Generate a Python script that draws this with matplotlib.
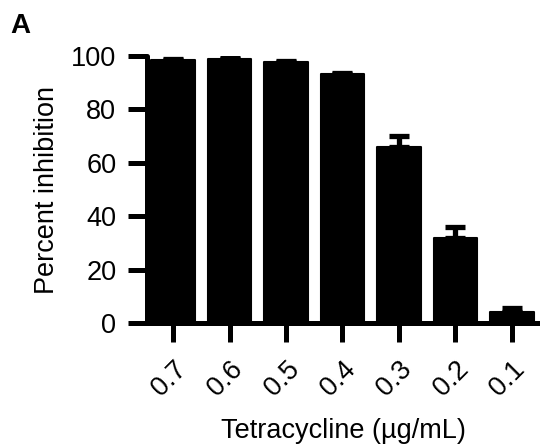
import matplotlib
matplotlib.use("Agg")
import matplotlib.pyplot as plt
import numpy as np

plt.rcParams['font.family'] = ['Liberation Sans', 'DejaVu Sans']

concentrations = ["0.7", "0.6", "0.5", "0.4", "0.3", "0.2", "0.1"]
inhibition = [98.5, 98.8, 97.7, 93.2, 66.0, 32.0, 4.1]
sem = [0.3, 0.3, 0.3, 0.4, 3.9, 4.1, 1.6]

fig = plt.figure(figsize=(5.4, 4.45), dpi=100)
ax = fig.add_axes([0.272, 0.274, 0.728, 0.600])

x = np.arange(len(concentrations))
ax.bar(x, inhibition, width=0.77, color='black', edgecolor='black',
       linewidth=1.5, joinstyle='round', zorder=2)
ax.errorbar(x, inhibition, yerr=[np.zeros(len(sem)), sem], fmt='none',
            ecolor='black', elinewidth=3.8, capsize=7.5, capthick=3.8, zorder=1)

ax.set_xlim(-0.465, 6.5)
ax.set_ylim(0, 100)
ax.set_yticks([0, 20, 40, 60, 80, 100])
ax.set_xticks(x)
ax.set_xticklabels(concentrations, rotation=45, ha='right', va='top',
                   rotation_mode='anchor')

for s in ['top', 'right']:
    ax.spines[s].set_visible(False)
for s in ['left', 'bottom']:
    ax.spines[s].set_linewidth(3.6)
    ax.spines[s].set_capstyle('round')

ax.tick_params(axis='both', which='major', length=14, width=3.6,
               labelsize=19.5, direction='out')
ax.tick_params(axis='y', pad=8)
ax.tick_params(axis='x', pad=10)

ax.set_ylabel("Percent inhibition", fontsize=19.5, labelpad=8)
ax.set_xlabel("Tetracycline (µg/mL)", fontsize=19.5, labelpad=12)

fig.text(0.02, 0.926, "A", fontsize=20, fontweight='bold')

fig.savefig("out.png", dpi=100)
